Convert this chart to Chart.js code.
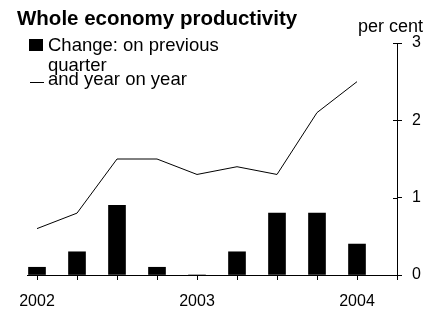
<!DOCTYPE html>
<html>
<head>
<meta charset="utf-8">
<script src="https://cdn.jsdelivr.net/npm/chart.js@4.4.1/dist/chart.umd.min.js"></script>
<style>
  html, body { margin: 0; padding: 0; background: #ffffff; }
  #wrap { width: 439px; height: 313px; }
</style>
</head>
<body>
<div id="wrap"><canvas id="c" width="439" height="313"></canvas></div>
<script>
// ---- data ----
const categories = ['2002 Q1','2002 Q2','2002 Q3','2002 Q4','2003 Q1','2003 Q2','2003 Q3','2003 Q4','2004 Q1'];
const tickLabels = { 0: '2002', 4: '2003', 8: '2004' };
const changeOnQuarter = [0.1, 0.3, 0.9, 0.1, 0.0, 0.3, 0.8, 0.8, 0.4];
const changeOnYear    = [0.6, 0.8, 1.5, 1.5, 1.3, 1.4, 1.3, 2.1, 2.5];
const yTicks = [0, 1, 2, 3];
const titleText = 'Whole economy productivity';
const unitText = 'per cent';
const legendQuarter = ['Change: on previous', 'quarter'];
const legendYear = ['and year on year'];

const FONT = '"Liberation Sans", Arial, Helvetica, sans-serif';

const textPlugin = {
  id: 'textPlugin',
  afterDraw(chart) {
    const ctx = chart.ctx;
    const yScale = chart.scales.y;
    const area = chart.chartArea;
    ctx.save();
    // inner halves of the y-axis tick marks
    ctx.strokeStyle = '#000';
    ctx.lineWidth = 1;
    yScale.ticks.forEach(t => {
      const py = Math.round(yScale.getPixelForValue(t.value)) + 0.5;
      ctx.beginPath();
      ctx.moveTo(area.right - 4, py);
      ctx.lineTo(area.right, py);
      ctx.stroke();
    });
    ctx.fillStyle = '#000';
    ctx.textBaseline = 'alphabetic';
    // title
    ctx.font = 'bold 20.5px ' + FONT;
    ctx.textAlign = 'left';
    ctx.fillText(titleText, 17, 25);
    // unit
    ctx.font = '18px ' + FONT;
    ctx.textAlign = 'right';
    ctx.fillText(unitText, 423, 32);
    // legend
    ctx.font = '18.5px ' + FONT;
    ctx.textAlign = 'left';
    ctx.fillRect(29, 39, 14, 12);
    ctx.fillText(legendQuarter[0], 48, 51);
    ctx.fillText(legendQuarter[1], 48, 71);
    ctx.beginPath();
    ctx.moveTo(30, 82.5);
    ctx.lineTo(44, 82.5);
    ctx.stroke();
    ctx.fillText(legendYear[0], 48, 85);
    ctx.restore();
  }
};

new Chart(document.getElementById('c'), {
  data: {
    labels: categories,
    datasets: [
      {
        type: 'bar',
        label: legendQuarter.join(' '),
        data: changeOnQuarter.map((v, i) => ({ x: i, y: v })),
        backgroundColor: '#000',
        borderWidth: 0,
        barThickness: 17,
        order: 2
      },
      {
        type: 'line',
        label: legendYear[0],
        data: changeOnYear.map((v, i) => ({ x: i, y: v })),
        borderColor: '#000',
        borderWidth: 1,
        pointRadius: 0,
        tension: 0,
        fill: false,
        order: 1
      }
    ]
  },
  options: {
    responsive: false,
    devicePixelRatio: 1,
    animation: false,
    layout: { padding: { left: 27, top: 43, right: 0, bottom: 0 } },
    plugins: {
      legend: { display: false },
      title: { display: false },
      tooltip: { enabled: false }
    },
    scales: {
      x: {
        type: 'linear',
        position: 'bottom',
        offset: false,
        min: -0.25,
        max: categories.length,
        afterBuildTicks(scale) {
          const t = [];
          for (let i = 0; i <= categories.length; i++) t.push({ value: i });
          scale.ticks = t;
        },
        afterFit(scale) {
          scale.height = 38;
          scale.paddingLeft = 0;
          scale.paddingRight = 0;
        },
        grid: {
          display: true,
          drawOnChartArea: false,
          drawTicks: true,
          offset: false,
          tickLength: 5,
          color: '#000',
          lineWidth: 1
        },
        border: { display: true, color: '#000', width: 1 },
        ticks: {
          autoSkip: false,
          maxRotation: 0,
          minRotation: 0,
          padding: 12,
          color: '#000',
          font: { family: FONT, size: 16 },
          callback: (v) => (tickLabels[v] !== undefined ? tickLabels[v] : '')
        }
      },
      y: {
        type: 'linear',
        position: 'right',
        min: yTicks[0],
        max: yTicks[yTicks.length - 1],
        afterBuildTicks(scale) { scale.ticks = yTicks.map(v => ({ value: v })); },
        afterFit(scale) {
          scale.width = 42;
          scale.paddingTop = 0;
          scale.paddingBottom = 0;
        },
        grid: {
          display: true,
          drawOnChartArea: false,
          drawTicks: true,
          tickLength: 5,
          color: '#000',
          lineWidth: 1
        },
        border: { display: true, color: '#000', width: 1 },
        ticks: {
          padding: 10,
          color: '#000',
          font: { family: FONT, size: 16 },
          callback: (v) => String(v)
        }
      }
    }
  },
  plugins: [textPlugin]
});
</script>
</body>
</html>
